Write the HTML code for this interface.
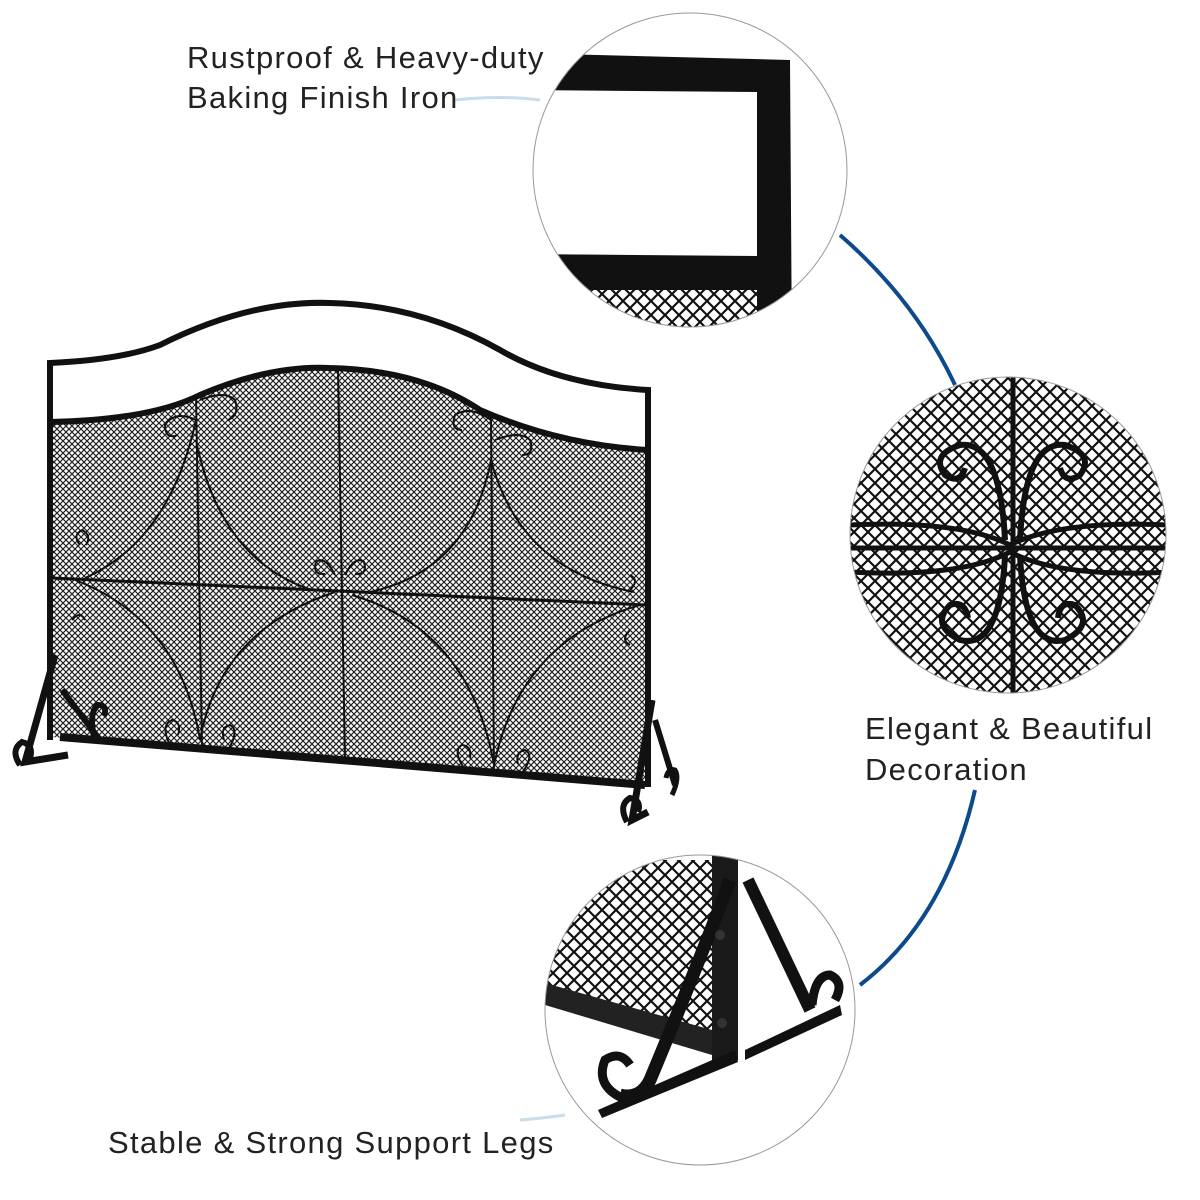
<!DOCTYPE html>
<html><head><style>
body{margin:0;background:#fff;}
svg{display:block}
text{font-family:"Liberation Sans",sans-serif;fill:#222;letter-spacing:1.3px;}
</style></head><body>
<svg width="1200" height="1200" viewBox="0 0 1200 1200" xmlns="http://www.w3.org/2000/svg">
<defs>
<pattern id="mesh" width="6" height="6" patternUnits="userSpaceOnUse">
<path d="M0 0L6 6M6 0L0 6" stroke="#222" stroke-width="1.2"/>
</pattern>
<pattern id="mesh2" width="14" height="14" patternUnits="userSpaceOnUse">
<path d="M0 0L14 14M14 0L0 14" stroke="#111" stroke-width="2.2"/>
</pattern>
<clipPath id="c1"><circle cx="690" cy="170" r="157"/></clipPath>
<clipPath id="c2"><circle cx="1008" cy="535" r="158"/></clipPath>
<clipPath id="c3"><circle cx="700" cy="1010" r="155"/></clipPath>
</defs>

<path d="M840 235 Q915 300 955 385" fill="none" stroke="#0d4a8c" stroke-width="4"/>
<path d="M975 790 Q945 920 860 985" fill="none" stroke="#0d4a8c" stroke-width="4"/>
<path d="M455 100 Q500 95 540 100" fill="none" stroke="#c8dcea" stroke-width="3"/>
<path d="M520 1120 Q545 1118 565 1115" fill="none" stroke="#c8dcea" stroke-width="3"/>

<text x="187" y="68" font-size="31">Rustproof &amp; Heavy-duty</text>
<text x="187" y="108" font-size="31">Baking Finish Iron</text>
<text x="865" y="739" font-size="31">Elegant &amp; Beautiful</text>
<text x="865" y="780" font-size="31">Decoration</text>
<text x="108" y="1153" font-size="31">Stable &amp; Strong Support Legs</text>

<!-- circle 1 -->
<g clip-path="url(#c1)">
<rect x="520" y="288" width="270" height="60" fill="url(#mesh2)"/>
<path d="M520 53 L790 60 L792 360 L757 360 L757 92 L520 90 Z" fill="#111"/>
<path d="M520 254 L757 256 L757 290 L520 290 Z" fill="#111"/>
</g>
<circle cx="690" cy="170" r="157" fill="none" stroke="#999" stroke-width="1"/>

<!-- circle 2 -->
<g clip-path="url(#c2)">
<rect x="840" y="370" width="340" height="340" fill="url(#mesh2)"/>
<line x1="1013" y1="370" x2="1013" y2="710" stroke="#111" stroke-width="5"/>
<line x1="840" y1="548" x2="1180" y2="548" stroke="#111" stroke-width="5"/>
<path d="M850 525 Q960 520 1010 545 Q1060 520 1170 525" fill="none" stroke="#111" stroke-width="5"/>
<path d="M850 572 Q960 578 1010 552 Q1060 578 1170 572" fill="none" stroke="#111" stroke-width="5"/>
<path d="M1005 540 Q1000 440 960 445 Q930 455 945 475 Q960 485 965 468" fill="none" stroke="#111" stroke-width="6"/>
<path d="M1020 540 Q1025 440 1065 445 Q1095 455 1080 475 Q1065 485 1060 468" fill="none" stroke="#111" stroke-width="6"/>
<path d="M1005 556 Q1000 650 960 640 Q930 625 950 605 Q965 600 968 618" fill="none" stroke="#111" stroke-width="6"/>
<path d="M1020 556 Q1025 650 1065 640 Q1095 625 1075 605 Q1060 600 1058 618" fill="none" stroke="#111" stroke-width="6"/>
</g>
<circle cx="1008" cy="535" r="158" fill="none" stroke="#999" stroke-width="1"/>

<!-- circle 3 -->
<g clip-path="url(#c3)">
<path d="M545 860 L712 860 L712 1035 L545 985 Z" fill="url(#mesh2)"/>
<path d="M545 983 L712 1030 L712 1055 L545 1005 Z" fill="#222"/>
<rect x="712" y="850" width="26" height="210" fill="#1a1a1a"/>
<path d="M598 1110 L735 1050 L738 1062 L602 1118 Z" fill="#111"/>
<path d="M730 880 Q700 960 650 1080 Q640 1100 620 1095" fill="none" stroke="#111" stroke-width="13"/>
<path d="M622 1098 Q595 1085 605 1060 Q620 1050 630 1065" fill="none" stroke="#111" stroke-width="9"/>
<path d="M748 880 L810 1010" fill="none" stroke="#111" stroke-width="12"/>
<path d="M745 1050 L840 1005 L842 1015 L745 1060 Z" fill="#111"/>
<path d="M812 1005 Q815 975 830 975 Q845 982 835 1000" fill="none" stroke="#111" stroke-width="9"/>
<circle cx="720" cy="935" r="5" fill="#333"/><circle cx="722" cy="1023" r="5" fill="#333"/>
</g>
<circle cx="700" cy="1010" r="155" fill="none" stroke="#999" stroke-width="1"/>

<!-- main screen -->
<path d="M52 422 Q150 420 200 395 Q270 365 330 368 Q420 370 480 410 Q560 445 646 450 L646 785 L52 737 Z" fill="url(#mesh)"/>
<g fill="none" stroke="#111">
<path d="M50 740 L50 363 Q120 360 160 345 Q250 300 330 303 Q420 305 500 350 Q560 385 648 390 L648 787" stroke-width="6"/>
<path d="M50 422 Q150 420 200 395 Q270 365 330 368 Q420 370 480 410 Q560 445 648 450" stroke-width="6"/>
<path d="M60 737 L645 785" stroke-width="8"/>
<path d="M52 578 L646 605" stroke-width="3"/>
<line x1="196" y1="395" x2="202" y2="748" stroke-width="2"/>
<line x1="338" y1="368" x2="345" y2="760" stroke-width="2"/>
<line x1="491" y1="415" x2="494" y2="772" stroke-width="2"/>
<path d="M196 420 Q170 540 85 578 M196 440 Q220 560 312 590 M491 460 Q470 570 370 592 M491 460 Q520 570 634 592" stroke-width="2"/>
<path d="M75 580 Q180 620 200 740 M335 592 Q220 630 200 740 M352 595 Q470 630 494 765 M640 605 Q520 640 494 765" stroke-width="2"/>
<path d="M170 745 Q160 725 172 720 Q182 722 178 735 M228 750 Q240 730 230 725 Q220 727 224 740" stroke-width="2"/>
<path d="M465 770 Q452 750 462 745 Q472 746 470 758 M522 773 Q535 755 525 750 Q515 752 518 764" stroke-width="2"/>
<path d="M335 575 Q325 555 316 562 Q312 575 325 574 M345 575 Q355 555 364 562 Q368 575 355 574" stroke-width="2"/>
<path d="M196 420 Q175 410 165 425 Q165 440 178 435 M200 400 Q225 390 235 400 Q240 415 228 420 M491 420 Q470 405 455 415 Q450 430 462 430 M495 440 Q520 430 530 440 Q535 455 522 455" stroke-width="2"/>
<path d="M80 545 Q72 535 82 530 Q92 535 86 545 M630 590 Q640 580 630 575 M72 620 Q80 610 85 620 M630 630 Q620 640 630 645" stroke-width="2"/>
<!-- legs -->
<path d="M55 655 L25 762 L68 755" stroke-width="7"/>
<path d="M62 690 L100 740" stroke-width="6"/>
<path d="M20 765 Q10 750 22 742 Q34 745 30 758" stroke-width="6"/>
<path d="M95 742 Q88 712 98 705 Q108 705 104 716" stroke-width="6"/>
<path d="M652 700 L632 820 L648 812" stroke-width="7"/>
<path d="M655 720 L675 785" stroke-width="6"/>
<path d="M627 822 Q618 805 630 798 Q642 800 638 812" stroke-width="6"/>
<path d="M672 795 Q680 778 675 770 Q668 768 666 778" stroke-width="5"/>
</g>
</svg>
</body></html>
